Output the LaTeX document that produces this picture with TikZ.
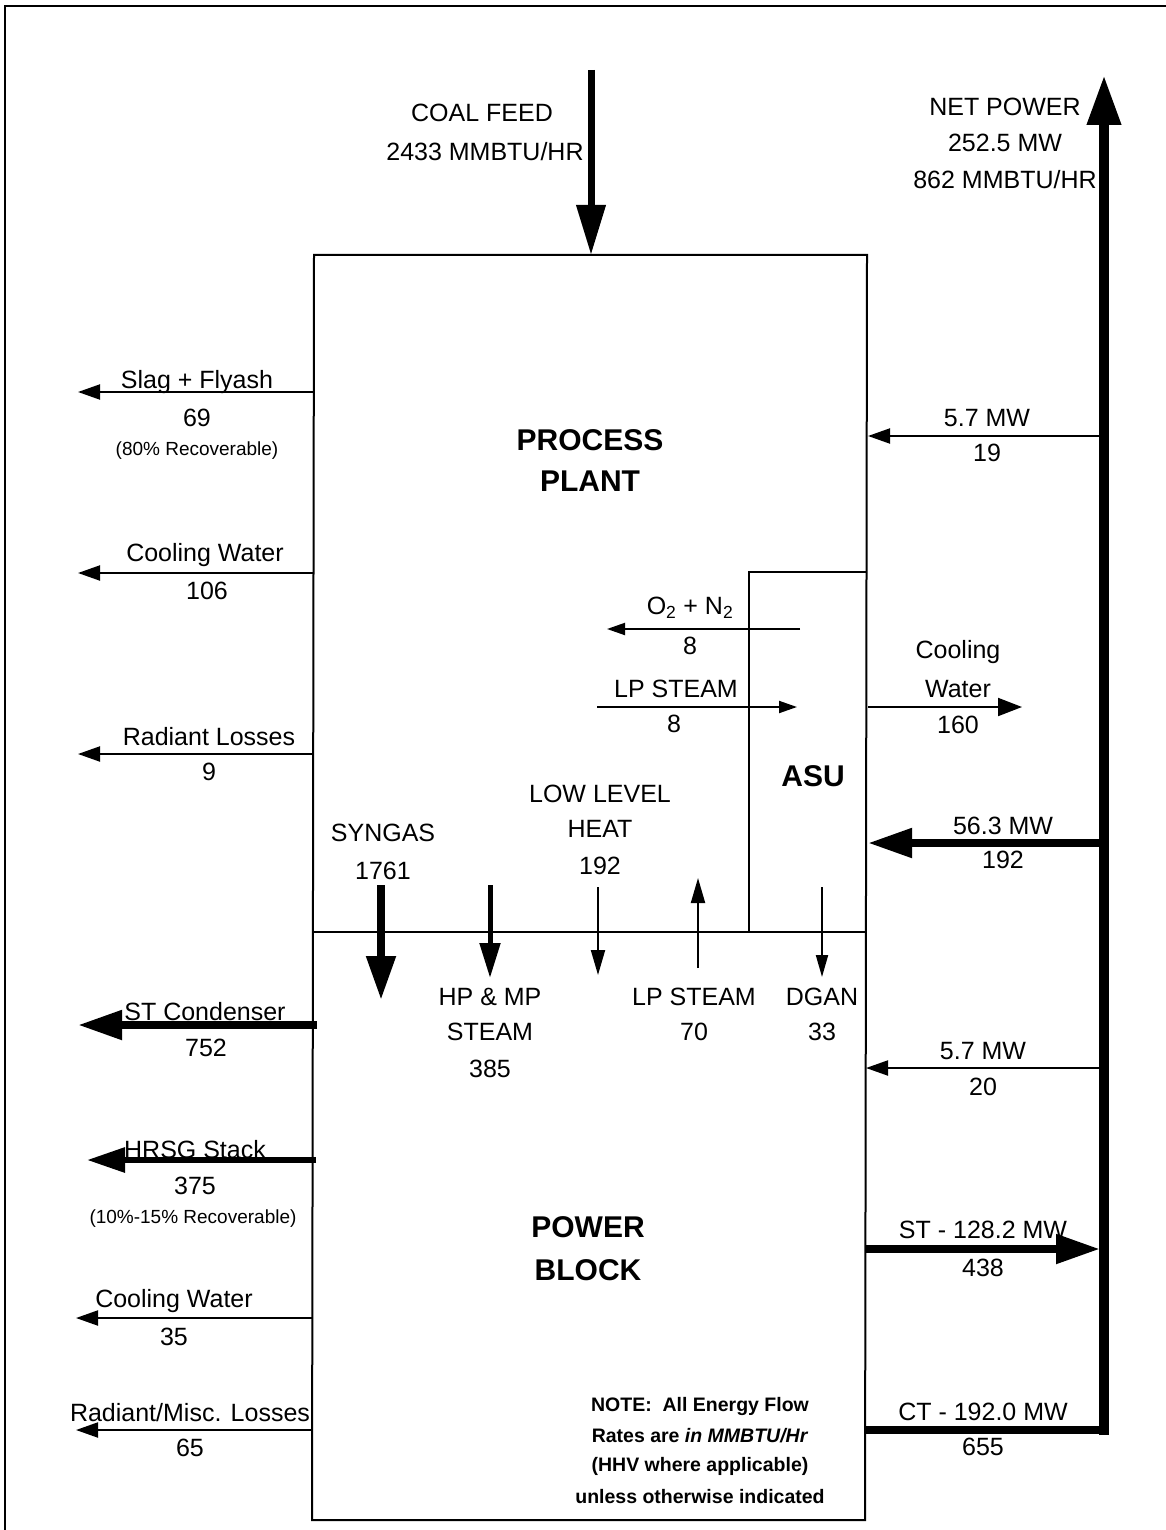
\documentclass[tikz,border=0pt]{standalone}
\usepackage{fontspec}
\setmainfont{Liberation Sans}
\usetikzlibrary{arrows.meta}
\begin{document}
\begin{tikzpicture}[x=1pt,y=-1pt,
  lbl/.style={font=\fontsize{25}{25}\selectfont, inner sep=0pt, anchor=center},
  bigl/.style={font=\fontsize{30}{30}\selectfont\bfseries, inner sep=0pt, anchor=center},
  sml/.style={font=\fontsize{19}{19}\selectfont, inner sep=0pt, anchor=center},
  notel/.style={font=\fontsize{19.5}{19.5}\selectfont\bfseries, inner sep=0pt, anchor=center},
  boxline/.style={line width=2pt},
  thinarr/.style={line width=2pt, -{Triangle[length=22pt,width=15pt]}},
  medarr/.style={line width=5pt, -{Triangle[length=35pt,width=20pt]}},
  thickarr/.style={line width=8pt, -{Triangle[length=44pt,width=28pt]}},
  vthinarr/.style={line width=2pt, -{Triangle[length=25pt,width=14pt]}}
]
\useasboundingbox (0,0) rectangle (1166,1530);
\fill[white] (0,0) rectangle (1166,1530);
% outer frame
\coordinate (frTR) at (1166,6);
\coordinate (frTL) at (5,6);
\coordinate (frBL) at (5,1530);
\draw[boxline] (frTR) -- (frTL) -- (frBL);

% main boxes
\coordinate (ppTL) at (314,255);
\coordinate (ppTR) at (867,255);
\coordinate (midL) at (313,932);
\coordinate (midR) at (866,932);
\coordinate (pbBL) at (312,1520);
\coordinate (pbBR) at (865,1520);
\draw[boxline] (ppTL) -- (ppTR) -- (pbBR) -- (pbBL) -- cycle;
\draw[boxline] (midL) -- (midR);
% ASU box
\coordinate (asuTL) at (749,572);
\coordinate (asuTR) at (867,572);
\coordinate (asuBL) at (749,932);
\draw[boxline] (asuTR) -- (asuTL) -- (asuBL);

% block titles
\node[bigl] (pp1) at (590,440) {PROCESS};
\node[bigl] (pp2) at (590,481) {PLANT};
\node[bigl] (pb1) at (588,1227) {POWER};
\node[bigl] (pb2) at (588,1270) {BLOCK};
\node[bigl] (asu) at (813,776) {ASU};

% coal feed
\coordinate (coalA) at (591,70);
\coordinate (coalB) at (591,255);
\draw[line width=7pt, -{Triangle[length=50pt,width=28pt]}] (coalA) -- (coalB);
\node[lbl] (coal1) at (482,113) {COAL FEED};
\node[lbl] (coal2) at (485,152) {2433 MMBTU/HR};

% net power
\coordinate (netA) at (1104,1435);
\coordinate (netB) at (1104,75);
\draw[line width=10pt, -{Triangle[length=50pt,width=32pt]}] (netA) -- (netB);
\node[lbl] (net1) at (1005,107) {NET POWER};
\node[lbl] (net2) at (1005,143) {252.5 MW};
\node[lbl] (net3) at (1005,180) {862 MMBTU/HR};

% right side flows
\coordinate (r1A) at (1100,436);
\coordinate (r1B) at (868,436);
\draw[thinarr] (r1A) -- (r1B);
\node[lbl] (r1t) at (987,418) {5.7 MW};
\node[lbl] (r1b) at (987,453) {19};

\coordinate (cwA) at (868,707);
\coordinate (cwB) at (1022,707);
\draw[line width=2pt, -{Triangle[length=24pt,width=18pt]}] (cwA) -- (cwB);
\node[lbl] (cw1) at (958,652) {Cooling};
\node[lbl] (cw2) at (958,689) {Water};
\node[lbl] (cw3) at (958,725) {160};

\coordinate (r2A) at (1100,843);
\coordinate (r2B) at (868,843);
\draw[thickarr] (r2A) -- (r2B);
\node[lbl] (r2t) at (1003,826) {56.3 MW};
\node[lbl] (r2b) at (1003,860) {192};

\coordinate (r3A) at (1100,1068);
\coordinate (r3B) at (866,1068);
\draw[thinarr] (r3A) -- (r3B);
\node[lbl] (r3t) at (983,1051) {5.7 MW};
\node[lbl] (r3b) at (983,1087) {20};

\coordinate (stA) at (865,1249);
\coordinate (stB) at (1100,1249);
\draw[thickarr] (stA) -- (stB);
\node[lbl] (stt) at (983,1230) {ST - 128.2 MW};
\node[lbl] (stb) at (983,1268) {438};

\coordinate (ctA) at (865,1430);
\coordinate (ctB) at (1109,1430);
\draw[line width=8pt] (ctA) -- (ctB);
\node[lbl] (ctt) at (983,1412) {CT - 192.0 MW};
\node[lbl] (ctb) at (983,1447) {655};

% left side flows (process plant)
\coordinate (l1A) at (314,392);
\coordinate (l1B) at (78,392);
\draw[thinarr] (l1A) -- (l1B);
\node[lbl] (l1t) at (197,382) {Slag + Flyash};
\node[lbl] (l1b) at (197,418) {69};
\node[sml] (l1c) at (197,451) {(80\% Recoverable)};

\coordinate (l2A) at (313,573);
\coordinate (l2B) at (78,573);
\draw[thinarr] (l2A) -- (l2B);
\node[lbl] (l2t) at (205,555) {Cooling Water};
\node[lbl] (l2b) at (207,591) {106};

\coordinate (l3A) at (313,754);
\coordinate (l3B) at (78,754);
\draw[thinarr] (l3A) -- (l3B);
\node[lbl] (l3t) at (209,737) {Radiant Losses};
\node[lbl] (l3b) at (209,772) {9};

% left side flows (power block)
\coordinate (l4A) at (317,1025);
\coordinate (l4B) at (78,1025);
\draw[thickarr] (l4A) -- (l4B);
\node[lbl] (l4t) at (205,1012) {ST Condenser};
\node[lbl] (l4b) at (206,1048) {752};

\coordinate (l5A) at (316,1160);
\coordinate (l5B) at (87,1160);
\draw[line width=6pt, -{Triangle[length=38pt,width=24pt]}] (l5A) -- (l5B);
\node[lbl] (l5t) at (195,1150) {HRSG Stack};
\node[lbl] (l5b) at (195,1186) {375};
\node[sml] (l5c) at (193,1219) {(10\%-15\% Recoverable)};

\coordinate (l6A) at (312,1318);
\coordinate (l6B) at (76,1318);
\draw[thinarr] (l6A) -- (l6B);
\node[lbl] (l6t) at (174,1301) {Cooling Water};
\node[lbl] (l6b) at (174,1337) {35};

\coordinate (l7A) at (312,1430);
\coordinate (l7B) at (76,1430);
\draw[thinarr] (l7A) -- (l7B);
\node[lbl] (l7t) at (190,1413) {Radiant/Misc. Losses};
\node[lbl] (l7b) at (190,1448) {65};

% ASU internal flows
\coordinate (onA) at (800,629);
\coordinate (onB) at (607,629);
\draw[line width=2pt, -{Triangle[length=18pt,width=12pt]}] (onA) -- (onB);
\node[lbl] (on1) at (690,608) {O\textsubscript{2} + N\textsubscript{2}};
\node[lbl] (on2) at (690,646) {8};

\coordinate (lpA) at (597,707);
\coordinate (lpB) at (797,707);
\draw[line width=2pt, -{Triangle[length=18pt,width=12pt]}] (lpA) -- (lpB);
\node[lbl] (lp1) at (676,689) {LP STEAM};
\node[lbl] (lp2) at (674,724) {8};

% interface flows
\coordinate (sgA) at (381,885);
\coordinate (sgB) at (381,1000);
\draw[thickarr] (sgA) -- (sgB);
\node[lbl] (sg1) at (383,833) {SYNGAS};
\node[lbl] (sg2) at (383,871) {1761};

\coordinate (hpA) at (490,885);
\coordinate (hpB) at (490,978);
\draw[medarr] (hpA) -- (hpB);
\node[lbl] (hp1) at (490,997) {HP \& MP};
\node[lbl] (hp2) at (490,1032) {STEAM};
\node[lbl] (hp3) at (490,1069) {385};

\coordinate (llA) at (598,887);
\coordinate (llB) at (598,975);
\draw[vthinarr] (llA) -- (llB);
\node[lbl] (ll1) at (600,794) {LOW LEVEL};
\node[lbl] (ll2) at (600,829) {HEAT};
\node[lbl] (ll3) at (600,866) {192};

\coordinate (lsA) at (698,968);
\coordinate (lsB) at (698,878);
\draw[vthinarr] (lsA) -- (lsB);
\node[lbl] (ls1) at (694,997) {LP STEAM};
\node[lbl] (ls2) at (694,1032) {70};

\coordinate (dgA) at (822,887);
\coordinate (dgB) at (822,977);
\draw[line width=2pt, -{Triangle[length=22pt,width=12pt]}] (dgA) -- (dgB);
\node[lbl] (dg1) at (822,997) {DGAN};
\node[lbl] (dg2) at (822,1032) {33};

% note
\node[notel] (n1) at (700,1406) {NOTE:\ \ All Energy Flow};
\node[notel] (n2) at (700,1436) {Rates are \textit{in MMBTU/Hr}};
\node[notel] (n3) at (700,1466) {(HHV where applicable)};
\node[notel] (n4) at (700,1497) {unless otherwise indicated};
\end{tikzpicture}
\end{document}
